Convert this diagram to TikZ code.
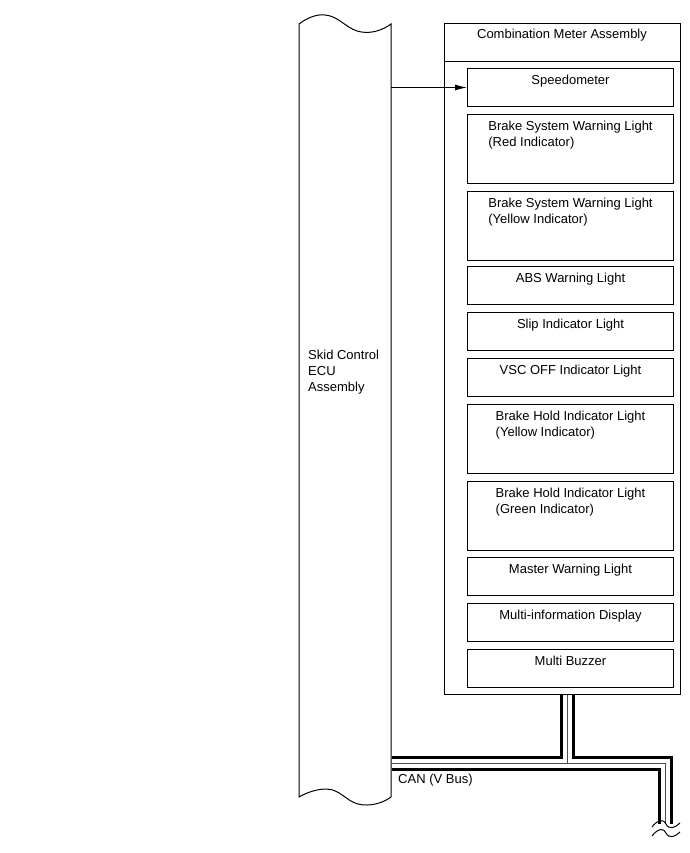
\documentclass[tikz,border=0pt]{standalone}
\usepackage{fontspec}
\setmainfont{Liberation Sans}
\usetikzlibrary{arrows.meta}
\tikzset{
  lbl/.style={font=\fontsize{13}{16}\selectfont, align=left, inner sep=0pt},
  ibox/.style={draw, line width=1pt, minimum width=206pt, inner sep=0pt, anchor=north west},
  ititle/.style={label={[lbl, anchor=north, yshift=-7pt]north:#1}},
  bus/.style={line width=15pt, black},
  busw/.style={line width=9pt, white},
  busc/.style={line width=0.8pt, black!70},
  thinln/.style={line width=1pt},
}
\begin{document}
\begin{tikzpicture}[x=1pt, y=-1pt, line join=miter]
\useasboundingbox (0,0) rectangle (689,853);
% ECU column
\draw[thinln] (299,24) .. controls (308,17) and (318,14) .. (325,15)
  .. controls (338,16) and (345,27) .. (357,31)
  .. controls (370,35) and (383,30) .. (391,24) -- (391,797)
  .. controls (383,803) and (370,807) .. (358,804)
  .. controls (346,801) and (340,789) .. (326,789)
  .. controls (316,789) and (306,793) .. (299,797) -- cycle;
\node[lbl, anchor=north west] (ecu) at (308,350) {Skid Control\\ECU\\Assembly};
% Combination meter
\node[draw, line width=1pt, minimum width=236pt, minimum height=671pt, anchor=north west, inner sep=0pt] (meter) at (444,23) {};
\coordinate (hdrL) at (444,62);
\coordinate (hdrR) at (680,62);
\draw[thinln] (hdrL) -- (hdrR);
\node[lbl, anchor=north] (mtitle) at (562,29) {Combination Meter Assembly};
% inner boxes
\node[ibox, minimum height=38pt, ititle={Speedometer}] (speedo) at (467,68) {};
\node[ibox, minimum height=69pt, ititle={Brake System Warning Light\\(Red Indicator)}] (bred) at (467,114) {};
\node[ibox, minimum height=69pt, ititle={Brake System Warning Light\\(Yellow Indicator)}] (byel) at (467,191) {};
\node[ibox, minimum height=38pt, ititle={ABS Warning Light}] (abs) at (467,266) {};
\node[ibox, minimum height=38pt, ititle={Slip Indicator Light}] (slip) at (467,312) {};
\node[ibox, minimum height=38pt, ititle={VSC OFF Indicator Light}] (vsc) at (467,358) {};
\node[ibox, minimum height=69pt, ititle={Brake Hold Indicator Light\\(Yellow Indicator)}] (bhy) at (467,404) {};
\node[ibox, minimum height=69pt, ititle={Brake Hold Indicator Light\\(Green Indicator)}] (bhg) at (467,481) {};
\node[ibox, minimum height=38pt, ititle={Master Warning Light}] (master) at (467,557) {};
\node[ibox, minimum height=38pt, ititle={Multi-information Display}] (mid) at (467,603) {};
\node[ibox, minimum height=38pt, ititle={Multi Buzzer}] (buzz) at (467,649) {};
% arrow
\coordinate (ecuR) at (391,0 |- speedo.west);
\draw[thinln, -{Latex[length=12pt,width=6pt]}] (ecuR) -- (speedo.west);
% CAN bus
\coordinate (busL) at (391.5,763);
\coordinate (mbot) at (567,695);
\coordinate (tj) at (567,763);
\coordinate (corner) at (665,763);
\coordinate (busend) at (665,824);
\draw[bus] (busL) -- (corner) -- (busend);
\draw[bus] (mbot) -- (tj);
\draw[busw] (busL) -- (corner) -- (busend);
\draw[busw] (mbot) -- (tj);
\draw[busc] (busL) -- (corner) -- (busend);
\draw[busc] (mbot) -- (tj);
% break marks
\coordinate (t1a) at (652,827);
\coordinate (t1b) at (680,823);
\coordinate (t2a) at (652,836);
\coordinate (t2b) at (680,832);
\draw[thinln] (t1a) .. controls (658,819) and (664,819) .. (666,824) .. controls (669,830) and (675,828) .. (t1b);
\draw[thinln] (t2a) .. controls (658,828) and (664,828) .. (666,833) .. controls (669,839) and (675,837) .. (t2b);
\node[lbl, anchor=north west] (can) at (398,774) {CAN (V Bus)};
\end{tikzpicture}
\end{document}
